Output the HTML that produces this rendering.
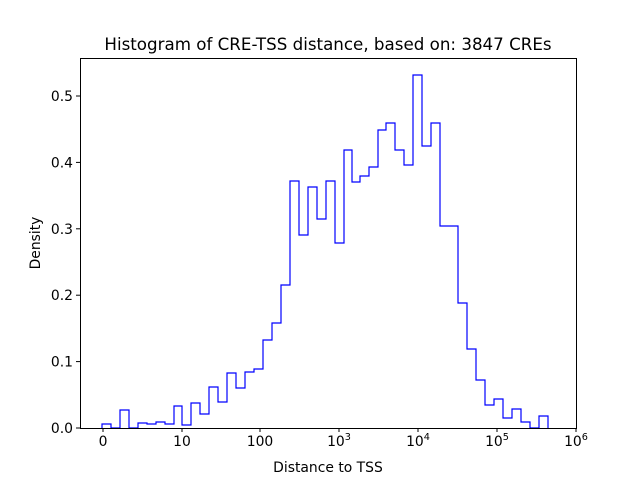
<!DOCTYPE html>
<html><head><style>body{margin:0;background:#fff}</style></head><body>
<svg width="640" height="480" xmlns="http://www.w3.org/2000/svg" font-family="DejaVu Sans, sans-serif" font-size="13.9">
<rect width="640" height="480" fill="#fff"/>
<polyline fill="none" stroke="#0000ff" stroke-width="1.2" points="
102,428 102,424 111,424 111,428 120,428 120,410 129,410 129,428 138,428 138,423 147,423 147,424 156,424 156,422 165,422 165,424 174,424 174,406 182,406 182,425 191,425 191,403 200,403 200,414 209,414 209,387 218,387 218,402 227,402 227,373 236,373 236,388 245,388 245,372 254,372 254,369 263,369 263,340 272,340 272,323 281,323 281,285 290,285 290,181 299,181 299,235 308,235 308,187 317,187 317,219 326,219 326,181 335,181 335,243 344,243 344,150 352,150 352,182 360,182 360,176 369,176 369,167 378,167 378,130 386,130 386,123 395,123 395,150 404,150 404,165 413,165 413,75 422,75 422,146 431,146 431,123 440,123 440,226 458,226 458,303 467,303 467,349 476,349 476,380 485,380 485,405 494,405 494,399 503,399 503,418 512,418 512,409 521,409 521,422 530,422 530,428 539,428 539,416 548,416 548,428"/>
<rect x="80.5" y="58.5" width="496" height="370" fill="none" stroke="#000" stroke-width="1"/>
<g stroke="#000">
<line x1="103" y1="428" x2="103" y2="432"/><line x1="182" y1="428" x2="182" y2="432"/><line x1="260" y1="428" x2="260" y2="432"/><line x1="339" y1="428" x2="339" y2="432"/><line x1="418" y1="428" x2="418" y2="432"/><line x1="497" y1="428" x2="497" y2="432"/><line x1="576" y1="428" x2="576" y2="432"/>
<line x1="76" y1="428" x2="80" y2="428"/><line x1="76" y1="361.6" x2="80" y2="361.6"/><line x1="76" y1="295.2" x2="80" y2="295.2"/><line x1="76" y1="228.8" x2="80" y2="228.8"/><line x1="76" y1="162.4" x2="80" y2="162.4"/><line x1="76" y1="96" x2="80" y2="96"/>
</g>
<g text-anchor="middle">
<text x="103" y="446">0</text><text x="182" y="446">10</text><text x="260" y="446">100</text>
<text x="339" y="446">10<tspan font-size="9.7" dy="-6">3</tspan></text>
<text x="418" y="446">10<tspan font-size="9.7" dy="-6">4</tspan></text>
<text x="497" y="446">10<tspan font-size="9.7" dy="-6">5</tspan></text>
<text x="576" y="446">10<tspan font-size="9.7" dy="-6">6</tspan></text>
</g>
<g text-anchor="end">
<text x="73" y="433">0.0</text><text x="73" y="366.6">0.1</text><text x="73" y="300.2">0.2</text><text x="73" y="233.8">0.3</text><text x="73" y="167.4">0.4</text><text x="73" y="101">0.5</text>
</g>
<text x="328" y="472" text-anchor="middle">Distance to TSS</text>
<text transform="translate(40,243) rotate(-90)" text-anchor="middle">Density</text>
<text x="328" y="50" text-anchor="middle" font-size="16.7">Histogram of CRE-TSS distance, based on: 3847 CREs</text>
</svg>
</body></html>
